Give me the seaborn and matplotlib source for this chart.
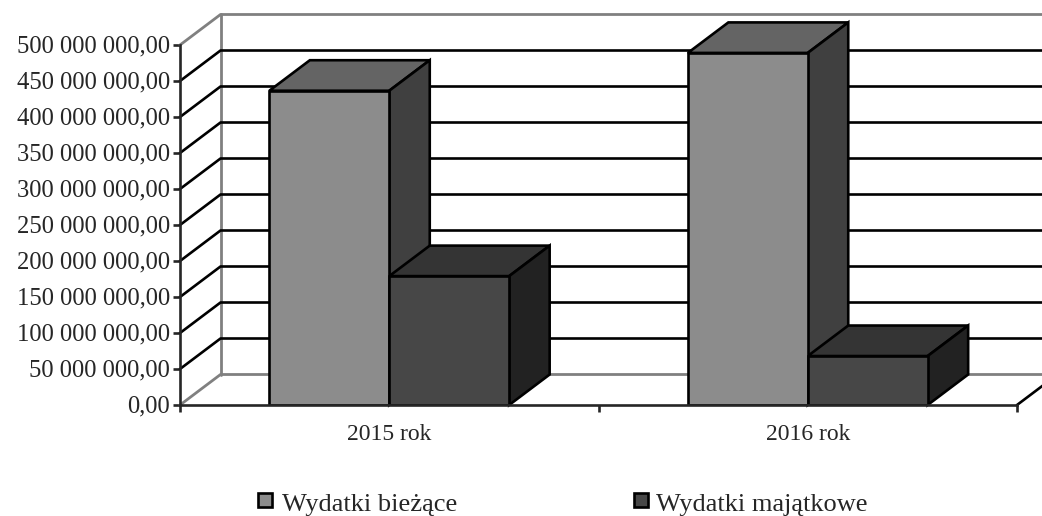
import matplotlib
matplotlib.use('Agg')
import matplotlib.pyplot as plt
from matplotlib.patches import Polygon
from matplotlib.transforms import ScaledTranslation
import seaborn as sns
import pandas as pd

years = ['2015 rok', '2016 rok']
series_names = ['Wydatki bieżące', 'Wydatki majątkowe']
biezace = [436500000, 489000000]
majatkowe = [179000000, 68000000]
y_ticks = [0, 50, 100, 150, 200, 250, 300, 350, 400, 450, 500]
y_labels = ['0,00'] + [f'{v} 000 000,00' for v in y_ticks[1:]]

front_colors = ['#8c8c8c', '#474747']
top_colors = ['#646464', '#343434']
side_colors = ['#404040', '#222222']
wall_color = '#808080'

W, H = 1042, 516
x0, x1, y_base, y_top = 180, 1017, 405, 45
dx_px, dy_px = 40.5, 30.5
lw = 1.9

sns.set_style('white')
plt.rcParams['font.family'] = ['Liberation Serif']

df = pd.DataFrame({
    'rok': years * 2,
    'seria': [series_names[0]] * 2 + [series_names[1]] * 2,
    'wartosc': biezace + majatkowe,
})

fig = plt.figure(figsize=(W / 100, H / 100), dpi=100)
ax = fig.add_axes([x0 / W, 1 - y_base / H, (x1 - x0) / W, (y_base - y_top) / H])
ax.patch.set_alpha(0)

sns.barplot(data=df, x='rok', y='wartosc', hue='seria', palette=front_colors, width=0.573,
            gap=0, edgecolor='black', linewidth=lw, saturation=1, legend=False, ax=ax, zorder=4)
ax.set_xlim(-0.5, 1.5)
ax.set_ylim(0, 500000000)

# depth of the fake 3d in data units
dx = dx_px / (x1 - x0) * 2
dy = dy_px / (y_base - y_top) * 500000000

# back wall and floor
ax.plot([-0.5 + dx, -0.5 + dx], [dy, 500000000 + dy], color=wall_color, lw=2, clip_on=False, zorder=1)
ax.plot([-0.5, -0.5 + dx, 1.5 + dx], [500000000, 500000000 + dy, 500000000 + dy], color=wall_color, lw=2,
        clip_on=False, zorder=1)
ax.plot([-0.5, -0.5 + dx, 1.5 + dx], [0, dy, dy], color=wall_color, lw=2, clip_on=False, zorder=1)
for v in y_ticks[1:-1]:
    m = v * 1000000
    ax.plot([-0.5, -0.5 + dx, 1.5 + dx], [m, m + dy, m + dy], color='black', lw=lw,
            clip_on=False, zorder=2)
ax.plot([1.5, 1.5 + dx], [0, dy], color='black', lw=lw, clip_on=False, zorder=2)

# top and side faces of each bar
for i, bar in enumerate(ax.patches[:4]):
    s = i // 2
    left, right, h = bar.get_x(), bar.get_x() + bar.get_width(), bar.get_height()
    top = [(left, h), (left + dx, h + dy), (right + dx, h + dy), (right, h)]
    side = [(right, 0), (right + dx, dy), (right + dx, h + dy), (right, h)]
    ax.add_patch(Polygon(top, facecolor=top_colors[s], edgecolor='black', lw=lw, clip_on=False, zorder=3))
    ax.add_patch(Polygon(side, facecolor=side_colors[s], edgecolor='black', lw=lw, clip_on=False, zorder=3))

for name in ['top', 'right']:
    ax.spines[name].set_visible(False)
for name in ['left', 'bottom']:
    ax.spines[name].set_linewidth(lw)
    ax.spines[name].set_zorder(5)

ax.set_xlabel('')
ax.set_ylabel('')
ax.set_yticks([v * 1000000 for v in y_ticks])
ax.set_yticklabels(y_labels, fontsize=17.7)
ax.set_xticks([-0.5, 0.5, 1.5], minor=True)
ax.set_xticks([0, 1])
ax.set_xticklabels(years, fontsize=17)
ax.tick_params(axis='y', length=5, width=lw, pad=2, left=True)
ax.tick_params(axis='x', which='major', length=0, pad=13.5)
ax.tick_params(axis='x', which='minor', length=5, width=lw, bottom=True)

# labels sit a little above their ticks
shift = ScaledTranslation(0, 1 / 72, fig.dpi_scale_trans)
for lab in ax.get_yticklabels():
    lab.set_transform(lab.get_transform() + shift)

# legend
for name, c, sx, tx in zip(series_names, front_colors, [258, 634], [282, 656]):
    fig.patches.append(plt.Rectangle((sx / W, 1 - 507 / H), 14 / W, 14 / H, transform=fig.transFigure,
                                     facecolor=c, edgecolor='black', lw=lw))
    fig.text(tx / W, 1 - 505 / H, name, fontsize=19, va='center', ha='left')

fig.savefig('out.png', dpi=100)
